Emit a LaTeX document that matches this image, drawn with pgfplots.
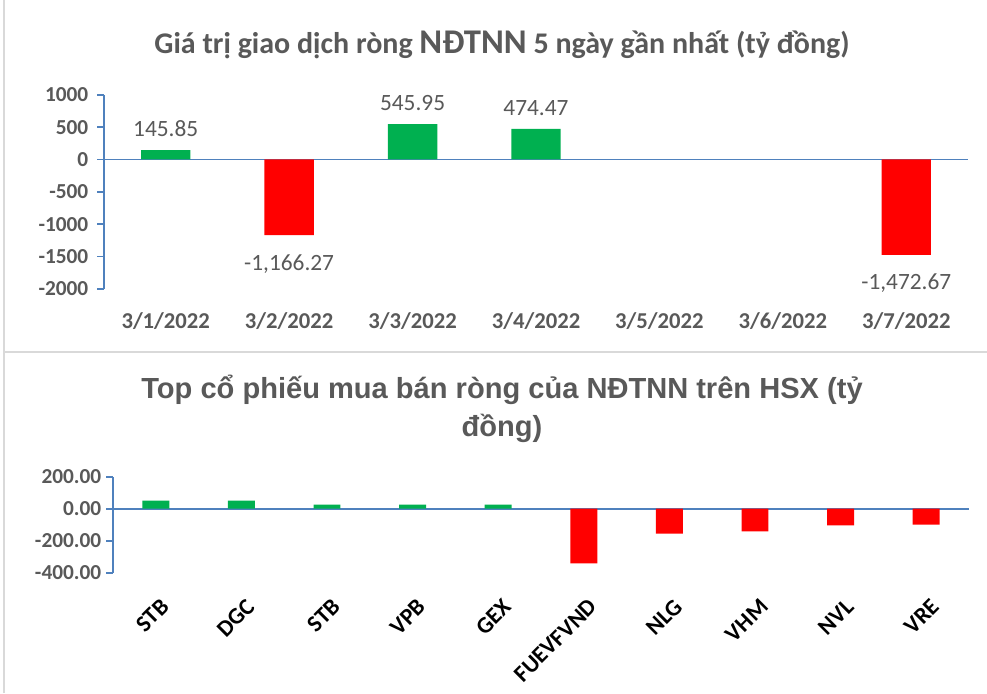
\documentclass[border=0pt]{standalone}
\usepackage{fontspec}
\setmainfont{Carlito}
\newfontfamily\arialfont{Liberation Sans}
\usepackage{pgfplots}
\pgfplotsset{compat=1.18}
\definecolor{gtxt}{HTML}{595959}
\definecolor{axb}{HTML}{4F81BD}
\definecolor{gbar}{HTML}{00B050}
\definecolor{rbar}{HTML}{FF0000}
\definecolor{frm}{HTML}{D9D9D9}
\begin{document}
\begin{tikzpicture}
\path[use as bounding box, fill=white] (0,0) rectangle (740.25pt,519.75pt);
\draw[frm, line width=1.2pt] (3pt,0) -- (3pt,519.75pt);
\draw[frm, line width=1.2pt] (3pt,255.75pt) -- (740.25pt,255.75pt);
% titles
\node[text=gtxt, font=\bfseries\fontsize{22.5}{26}\selectfont] at (376.5pt,486pt)
  {Giá trị giao dịch ròng {\fontsize{26}{26}\selectfont NĐTNN} 5 ngày gần nhất (tỷ đồng)};
\node[text=gtxt, font=\arialfont\bfseries\fontsize{21.8}{28.5}\selectfont, align=center] at (376.5pt,213pt)
  {Top cổ phiếu mua bán ròng của NĐTNN trên HSX (tỷ\\đồng)};
% top chart
\begin{axis}[at={(78pt,303pt)}, anchor=south west, scale only axis,
  width=648pt, height=145.7pt,
  xmin=-0.5, xmax=6.5, ymin=-2000, ymax=1000,
  axis lines*=left, clip=false,
  x axis line style={draw=none},
  y axis line style={axb, line width=1.3pt},
  ytick={-2000,-1500,-1000,-500,0,500,1000},
  xtick={0,1,2,3,4,5,6},
  xticklabels={3/1/2022,3/2/2022,3/3/2022,3/4/2022,3/5/2022,3/6/2022,3/7/2022},
  major x tick style={draw=none},
  y tick style={axb, line width=1.3pt},
  tick align=outside, major tick length=5.25pt,
  /pgf/number format/assume math mode=true,
  xticklabel style={font=\bfseries\fontsize{17}{20}\selectfont, text=gtxt, yshift=-9pt},
  yticklabel style={font=\bfseries\fontsize{16}{19}\selectfont, text=gtxt, /pgf/number format/1000 sep={}, xshift=-3pt},
  ybar, bar shift=0pt, bar width=0.4,
  nodes near coords,
  nodes near coords style={font=\fontsize{17.5}{20}\selectfont, text=gtxt,
    /pgf/number format/fixed, /pgf/number format/fixed zerofill, /pgf/number format/precision=2,
    /pgf/number format/1000 sep={,}, /pgf/number format/assume math mode=true},
]
\draw[axb, line width=1.3pt, shorten <=-5.25pt] (axis cs:-0.5,0) -- (axis cs:6.5,0);
\addplot[fill=gbar, draw=none, every node near coord/.append style={yshift=6.5pt}]
  coordinates {(0,145.85) (2,545.95) (3,474.47)};
\addplot[fill=rbar, draw=none, every node near coord/.append style={yshift=-11pt}]
  coordinates {(1,-1166.27) (6,-1472.67)};
\end{axis}
% bottom chart
\begin{axis}[at={(84.75pt,90.2pt)}, anchor=south west, scale only axis,
  width=642pt, height=72pt,
  xmin=-0.5, xmax=9.5, ymin=-400, ymax=200,
  axis lines*=left, clip=false,
  x axis line style={draw=none},
  y axis line style={axb, line width=1.3pt},
  ytick={-400,-200,0,200},
  xtick={0,...,9},
  xticklabels={STB,DGC,STB,VPB,GEX,FUEVFVND,NLG,VHM,NVL,VRE},
  major x tick style={draw=none},
  y tick style={axb, line width=1.3pt},
  tick align=outside, major tick length=5.25pt,
  /pgf/number format/assume math mode=true,
  xticklabel style={font=\bfseries\fontsize{17.5}{19}\selectfont, text=black, rotate=45, anchor=north east, yshift=-8pt, xshift=-4pt},
  yticklabel style={font=\bfseries\fontsize{16}{19}\selectfont, text=gtxt,
    /pgf/number format/fixed, /pgf/number format/fixed zerofill, /pgf/number format/precision=2, /pgf/number format/assume math mode=true},
  ybar, bar shift=0pt, bar width=0.315,
]
\draw[axb, line width=1.3pt, shorten <=-5.25pt] (axis cs:-0.5,0) -- (axis cs:9.5,0);
\addplot[fill=gbar, draw=none] coordinates {(0,50) (1,50) (2,25) (3,25) (4,25)};
\addplot[fill=rbar, draw=none] coordinates {(5,-342) (6,-155) (7,-142) (8,-104) (9,-100)};
\end{axis}
\end{tikzpicture}
\end{document}
